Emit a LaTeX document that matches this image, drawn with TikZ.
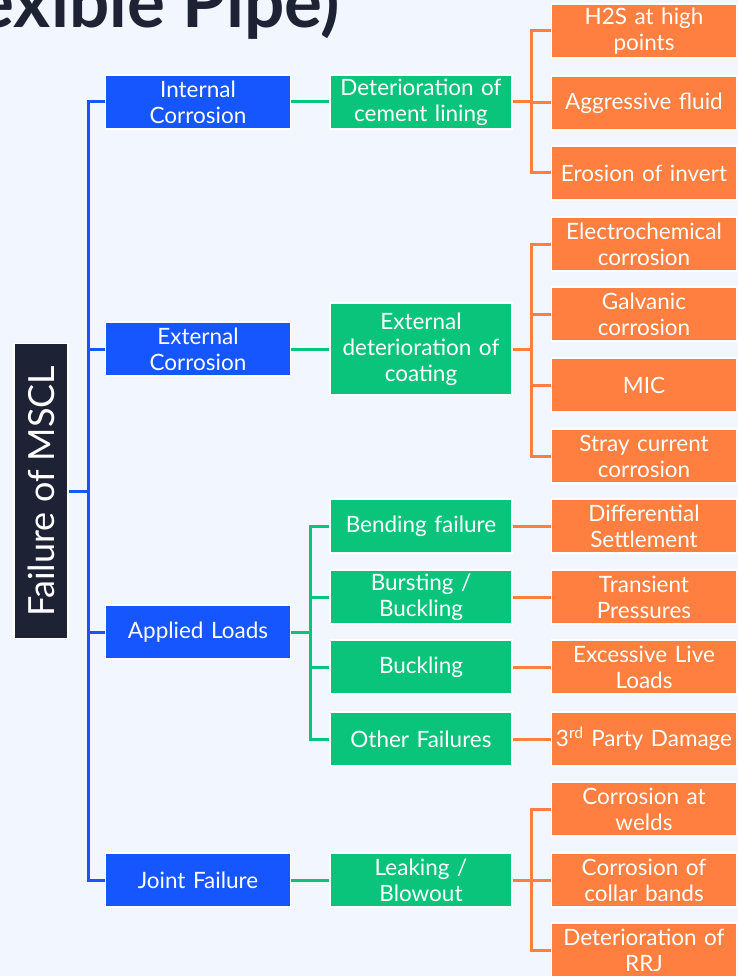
\documentclass[tikz,border=0pt]{standalone}
\usepackage{fontspec}
\setmainfont{Lato}
\usetikzlibrary{positioning}
\definecolor{bgpage}{HTML}{F2F6FE}
\definecolor{navy}{HTML}{1E2235}
\definecolor{causeblue}{HTML}{1556FF}
\definecolor{modegreen}{HTML}{0BC47B}
\definecolor{rootorange}{HTML}{FF7F40}

\begin{document}
\begin{tikzpicture}[x=1pt, y=-1pt, font=\fontsize{22.5}{26}\selectfont,
                    line width=3pt]
    \tikzstyle{box}=[draw=white, line width=1.5pt, text=white, align=center,
                     inner sep=0pt, minimum height=54pt]
    \tikzstyle{cause}=[box, fill=causeblue, minimum width=185pt, text width=180pt]
    \tikzstyle{mode}=[box, fill=modegreen, minimum width=182pt, text width=178pt]
    \tikzstyle{source}=[box, fill=rootorange, minimum width=185pt, text width=182pt]
    \tikzstyle{bline}=[draw=causeblue]
    \tikzstyle{gline}=[draw=modegreen]
    \tikzstyle{oline}=[draw=rootorange]

    \useasboundingbox[fill=bgpage] (0,0) rectangle (738,976);

    \node[anchor=base east, text=navy, font=\fontsize{71}{80}\bfseries]
        (T) at (345,28) {exible Pipe)};
    \node[box, fill=navy, rotate=90, minimum width=295pt, minimum height=54pt,
          font=\fontsize{36}{40}\selectfont] (R) at (41,491) {Failure of MSCL};

    \node[cause] (IC) at (198,102) {Internal\\Corrosion};
    \node[cause] (EC) at (198,349) {External\\Corrosion};
    \node[cause] (AL) at (198,632) {Applied Loads};
    \node[cause] (JF) at (198,880) {Joint Failure};

    \node[mode] (DL) at (421,102) {Deterioration of\\cement lining};
    \node[mode, minimum height=92pt] (DC) at (421,349) {External\\deterioration of\\coating};
    \node[mode] (BF) at (421,526) {Bending failure};
    \node[mode] (BB) at (421,597) {Bursting /\\Buckling};
    \node[mode] (BK) at (421,667) {Buckling};
    \node[mode] (OF) at (421,739) {Other Failures};
    \node[mode] (LB) at (421,880) {Leaking /\\Blowout};

    \node[source] (HS) at (644,31)  {H2S at high\\points};
    \node[source] (AF) at (644,103) {Aggressive fluid};
    \node[source] (EI) at (644,173) {Erosion of invert};
    \node[source] (ECo) at (644,244) {Electrochemical\\corrosion};
    \node[source] (GC) at (644,314) {Galvanic\\corrosion};
    \node[source] (MI) at (644,385) {MIC};
    \node[source] (SC) at (644,456) {Stray current\\corrosion};
    \node[source] (DS) at (644,526) {Differential\\Settlement};
    \node[source] (TP) at (644,597) {Transient\\Pressures};
    \node[source] (EL) at (644,667) {Excessive Live\\Loads};
    \node[source] (PD) at (644,739) {3\textsuperscript{rd} Party Damage};
    \node[source] (CW) at (644,809) {Corrosion at\\welds};
    \node[source] (CB) at (644,880) {Corrosion of\\collar bands};
    \node[source] (RJ) at (644,950) {Deterioration of\\RRJ};

    \coordinate (B0) at (88,491);
    \coordinate (G0) at (310,632);
    \coordinate (O1) at (531,102);
    \coordinate (O2) at (531,349);
    \coordinate (O3) at (531,880);

    \path[bline] (R.south) -- (B0);
    \foreach \n in {IC,EC,AL,JF}
        \path[bline] (\n.west) -| (B0);

    \path[gline] (IC) -- (DL);
    \path[gline] (EC) -- (DC);
    \path[gline] (JF) -- (LB);
    \path[gline] (AL.east) -- (G0);
    \foreach \n in {BF,BB,BK,OF}
        \path[gline] (\n.west) -| (G0);

    \path[oline] (DL.east) -- (O1);
    \foreach \n in {HS,AF,EI}
        \path[oline] (\n.west) -| (O1);
    \path[oline] (DC.east) -- (O2);
    \foreach \n in {ECo,GC,MI,SC}
        \path[oline] (\n.west) -| (O2);
    \path[oline] (BF) -- (DS);
    \path[oline] (BB) -- (TP);
    \path[oline] (BK) -- (EL);
    \path[oline] (OF) -- (PD);
    \path[oline] (LB.east) -- (O3);
    \foreach \n in {CW,CB,RJ}
        \path[oline] (\n.west) -| (O3);
\end{tikzpicture}
\end{document}
